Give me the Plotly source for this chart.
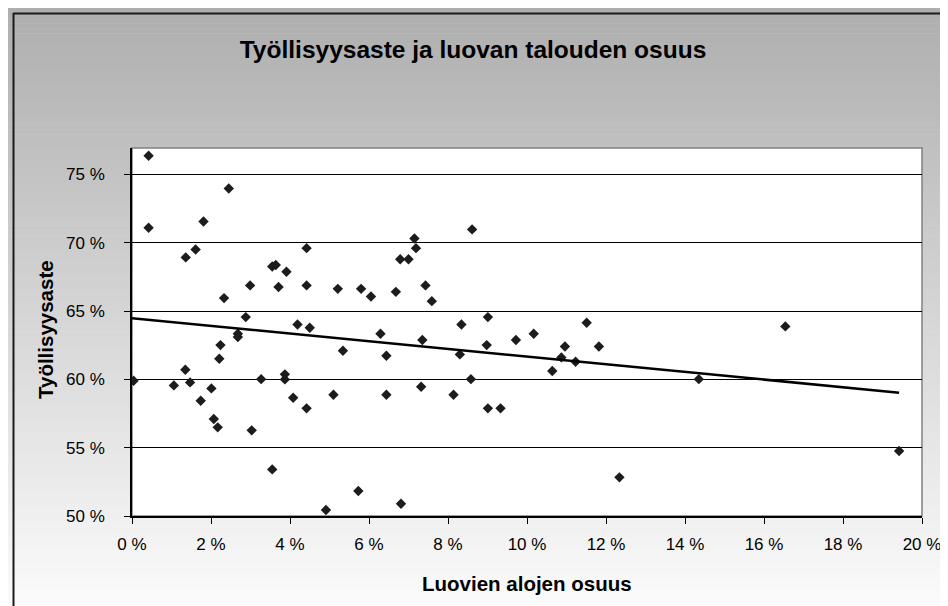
import numpy as np
import plotly.graph_objects as go

# Data (percent values)
share_creative = [
    0.42, 0.42, 2.45, 1.81, 1.36, 1.61, 4.42, 3.55, 3.64, 3.91,
    2.99, 3.71, 4.42, 2.33, 2.88, 4.19, 4.50, 2.68, 2.68, 2.24,
    2.21, 1.35, 0.04, 1.06, 1.47, 2.01, 1.74, 2.07, 2.17, 3.27,
    3.87, 3.87, 4.08, 4.42, 3.03, 3.55, 7.15, 7.19, 8.61, 6.79,
    7.00, 5.21, 5.80, 6.05, 6.68, 7.43, 7.59, 6.29, 5.34, 6.44,
    7.35, 8.34, 9.01, 8.30, 8.98, 9.72, 5.10, 6.44, 7.32, 8.14,
    8.58, 9.01, 9.33, 4.91, 5.73, 6.81, 10.17, 11.51, 10.96, 11.82,
    10.87, 11.23, 10.64, 14.35, 12.34, 16.54, 19.42,
]
employment_rate = [
    76.37, 71.10, 73.98, 71.56, 68.93, 69.51, 69.61, 68.27, 68.37, 67.88,
    66.88, 66.76, 66.88, 65.95, 64.56, 64.02, 63.78, 63.34, 63.10, 62.51,
    61.51, 60.71, 59.90, 59.56, 59.78, 59.34, 58.44, 57.10, 56.49, 60.02,
    60.37, 60.00, 58.66, 57.88, 56.27, 53.41, 70.32, 69.61, 70.98, 68.80,
    68.80, 66.63, 66.63, 66.07, 66.41, 66.88, 65.73, 63.34, 62.10, 61.73,
    62.88, 64.02, 64.56, 61.83, 62.51, 62.88, 58.88, 58.88, 59.46, 58.88,
    60.02, 57.88, 57.88, 50.44, 51.83, 50.90, 63.34, 64.15, 62.41, 62.41,
    61.61, 61.29, 60.61, 60.02, 52.83, 63.88, 54.76,
]
x_tick_vals = [0, 2, 4, 6, 8, 10, 12, 14, 16, 18, 20]
x_tick_text = ["0 %", "2 %", "4 %", "6 %", "8 %", "10 %", "12 %", "14 %", "16 %", "18 %", "20 %"]
y_tick_vals = [50, 55, 60, 65, 70, 75]
y_tick_text = ["50 %", "55 %", "60 %", "65 %", "70 %", "75 %"]

title_text = "Työllisyysaste ja luovan talouden osuus"
x_title = "Luovien alojen osuus"
y_title = "Työllisyysaste"

# Linear trend line
xs = np.array(share_creative)
ys = np.array(employment_rate)
slope, intercept = np.polyfit(xs, ys, 1)
trend_x = [0.0, float(xs.max())]
trend_y = [intercept + slope * v for v in trend_x]

W, H = 948, 606
L, R, T, B = 124, 34, 140, 98
pw, ph = W - L - R, H - T - B

def px_to_paper_x(px):
    return (px - L) / pw

def px_to_paper_y(py):
    return (H - B - py) / ph

FONT = "Liberation Sans, Arial, sans-serif"

fig = go.Figure()
fig.add_trace(go.Scatter(
    x=share_creative, y=employment_rate, mode="markers",
    marker=dict(symbol="diamond", size=8, color="#1c1c1c"),
    showlegend=False, hoverinfo="x+y",
))
fig.add_trace(go.Scatter(
    x=trend_x, y=trend_y, mode="lines",
    line=dict(color="black", width=2.5),
    showlegend=False, hoverinfo="skip",
))

shapes = []
# vertical gradient background bands
n = 120
for i in range(n):
    y0p = i * H / n
    y1p = (i + 1) * H / n + 0.6
    t = (i + 0.5) / n
    c = int(round(174 + (252 - 174) * t))
    shapes.append(dict(
        type="rect", xref="paper", yref="paper", layer="below",
        x0=px_to_paper_x(-2), x1=px_to_paper_x(W + 2),
        y0=px_to_paper_y(y1p), y1=px_to_paper_y(y0p),
        fillcolor=f"rgb({c},{c},{c})", line=dict(width=0),
    ))
# white plot area
shapes.append(dict(
    type="rect", xref="paper", yref="paper", layer="below",
    x0=0, x1=1, y0=0, y1=1, fillcolor="white",
    line=dict(color="#808080", width=1.5),
))
# outer chart border (left and top visible)
shapes.append(dict(
    type="line", xref="paper", yref="paper",
    x0=px_to_paper_x(5.5), x1=px_to_paper_x(5.5),
    y0=px_to_paper_y(5), y1=px_to_paper_y(H + 5),
    line=dict(color="#1a1a1a", width=2),
))
shapes.append(dict(
    type="line", xref="paper", yref="paper",
    x0=px_to_paper_x(5), x1=px_to_paper_x(W + 5),
    y0=px_to_paper_y(5.5), y1=px_to_paper_y(5.5),
    line=dict(color="#1a1a1a", width=2),
))

fig.update_layout(
    width=W, height=H,
    margin=dict(l=L, r=R, t=T, b=B),
    paper_bgcolor="white",
    plot_bgcolor="rgba(0,0,0,0)",
    font=dict(family=FONT, size=17, color="black"),
    shapes=shapes,
    title=dict(
        text=f"<b>{title_text}</b>", font=dict(family=FONT, size=24.5, color="black"),
        x=465 / W, xref="container", xanchor="center",
        y=1 - 41 / H, yref="container", yanchor="middle",
    ),
    annotations=[
        dict(text=f"<b>{x_title}</b>", xref="paper", yref="paper",
             x=0.5, y=px_to_paper_y(575), showarrow=False,
             xanchor="center", yanchor="middle",
             font=dict(family=FONT, size=20.5, color="black")),
        dict(text=f"<b>{y_title}</b>", xref="paper", yref="paper",
             x=px_to_paper_x(37), y=px_to_paper_y(322), showarrow=False,
             textangle=-90, xanchor="center", yanchor="middle",
             font=dict(family=FONT, size=20.5, color="black")),
    ],
    hovermode="closest",
)
fig.update_xaxes(
    range=[0, 20], tickvals=x_tick_vals, ticktext=x_tick_text,
    showgrid=False, zeroline=False,
    showline=True, linecolor="black", linewidth=1.5,
    ticks="outside", ticklen=6, tickcolor="black", tickwidth=1,
    ticklabelstandoff=6,
    tickfont=dict(family=FONT, size=17, color="black"),
    fixedrange=True,
)
fig.update_yaxes(
    range=[50, 76.94], tickvals=y_tick_vals, ticktext=y_tick_text,
    showgrid=True, gridcolor="black", gridwidth=1, zeroline=False,
    showline=True, linecolor="black", linewidth=1.5,
    ticks="outside", ticklen=6, tickcolor="black", tickwidth=1,
    ticklabelstandoff=16,
    tickfont=dict(family=FONT, size=17, color="black"),
    fixedrange=True,
)

fig.write_html("out.html")
